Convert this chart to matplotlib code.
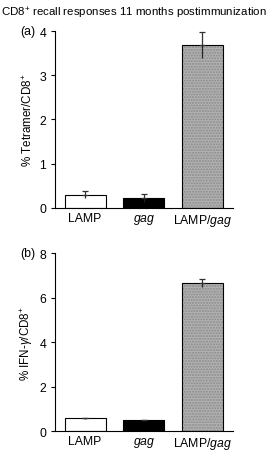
import matplotlib
matplotlib.use("Agg")
import matplotlib.pyplot as plt

groups = ["LAMP", "gag", "LAMP/gag"]
group_labels = ["LAMP", r"$\it{gag}$", r"LAMP/$\it{gag}$"]

tetramer = [0.30, 0.22, 3.68]
tetramer_err = [0.08, 0.09, 0.30]

ifng = [0.58, 0.49, 6.65]
ifng_err = [0.02, 0.01, 0.18]

colors = ["white", "black", "#b2b2b2"]

plt.rcParams.update({
    "font.family": ["Liberation Sans", "DejaVu Sans"],
    "mathtext.fontset": "custom",
    "mathtext.it": "Liberation Sans:italic",
    "mathtext.rm": "Liberation Sans",
    "font.size": 8,
    "axes.linewidth": 0.8,
})

fig = plt.figure(figsize=(2.66, 4.52), dpi=100, facecolor="white")
fig.text(0.002, 0.988, "CD8$^{+}$ recall responses 11 months postimmunization",
         ha="left", va="top", fontsize=8.25)

panels = [
    ([0.205, 0.538, 0.671, 0.391], tetramer, tetramer_err, 4, 1,
     "% Tetramer/CD8$^{+}$", "(a)"),
    ([0.205, 0.044, 0.671, 0.394], ifng, ifng_err, 8, 2,
     "% IFN-$\\gamma$/CD8$^{+}$", "(b)"),
]

x = list(range(len(groups)))
for rect, vals, errs, ymax, step, ylabel, tag in panels:
    ax = fig.add_axes(rect)
    # textured fill for the grey bar, then outlines on top
    ax.bar(x[2], vals[2], width=0.70, color=colors[2], edgecolor="#8a8a8a",
           linewidth=0, hatch="......", zorder=2)
    ax.bar(x, vals, width=0.70, color=["white", "black", "none"],
           edgecolor="black", linewidth=0.8, zorder=2.5)
    # upper half with cap above the bar
    ax.errorbar(x, vals, yerr=[[0] * 3, errs], fmt="none", ecolor="#333333",
                elinewidth=0.9, capsize=2.5, capthick=0.9, zorder=3)
    # lower half drawn into the bar, no cap
    ax.vlines(x, [v - e for v, e in zip(vals, errs)], vals,
              color="#222222", linewidth=0.9, zorder=3)
    ax.set_xlim(-0.52, 2.52)
    ax.set_ylim(0, ymax)
    ax.set_yticks(range(0, ymax + 1, step))
    ax.set_xticks(x)
    ax.set_xticklabels(group_labels, fontsize=8.8)
    ax.tick_params(axis="x", length=0, pad=3)
    ax.tick_params(axis="y", length=3, width=0.8, labelsize=8.8, pad=3)
    ax.spines[["top", "right"]].set_visible(False)
    ax.set_ylabel(ylabel, fontsize=8.4, labelpad=3)
    ax.text(-0.11, 1.0, tag, transform=ax.transAxes, ha="right", va="center",
            fontsize=8.8)

fig.savefig("out.png", dpi=100, facecolor="white")
